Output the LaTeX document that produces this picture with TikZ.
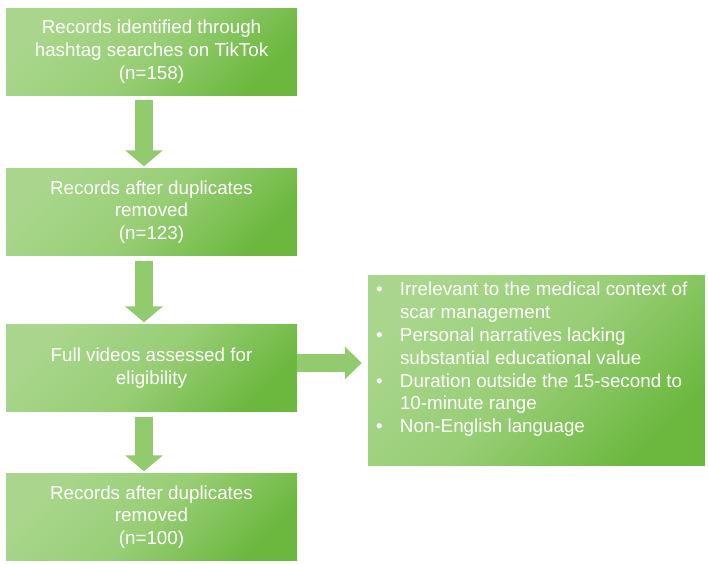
\documentclass[tikz,border=0pt]{standalone}
\usepackage{fontspec}
\setmainfont{Liberation Sans}
\usetikzlibrary{arrows.meta}

\definecolor{boxlight}{HTML}{A9D68C}
\definecolor{boxmid}{HTML}{98CE76}
\definecolor{boxdark}{HTML}{6CB83F}
\definecolor{arrowgreen}{HTML}{92CB6E}

\begin{document}
\begin{tikzpicture}[x=1pt, y=-1pt,
box/.style = {rectangle, inner sep=0pt, minimum width=291pt, minimum height=87pt,
              top color=boxlight, bottom color=boxdark, middle color=boxmid,
              shading angle=45, text=white, align=center,
              font=\fontsize{18.8}{22.8}\selectfont},
down/.style = {draw=arrowgreen, line width=18pt, shorten <=5pt, shorten >=2pt,
               -{Triangle[width=37pt, length=16pt]}},
right/.style = {draw=arrowgreen, line width=18pt, shorten >=6pt,
                -{Triangle[width=32pt, length=17pt]}}
                        ]
\useasboundingbox (0,0) rectangle (708,563);
% left column
\node (rec)   [box] at (151.5,51.5) {Records identified through\\hashtag searches on TikTok\\(n=158)};
\node (dup)   [box] at (151.5,212)  {Records after duplicates\\removed\\(n=123)};
\node (full)  [box] at (151.5,368)  {Full videos assessed for\\eligibility};
\node (final) [box] at (151.5,517)  {Records after duplicates\\removed\\(n=100)};
% exclusions
\node (excl) [box, minimum width=337pt, minimum height=190pt] at (536.5,370) {};
\node (excltext) [anchor=north west, inner sep=0pt, text=white, align=left,
      font=\fontsize{18.8}{22.8}\selectfont] at ([xshift=8pt,yshift=-5pt]excl.north west)
  {\begin{tabular}{@{}p{24pt}@{}l@{}}
   \textbullet & Irrelevant to the medical context of\\
               & scar management\\
   \textbullet & Personal narratives lacking\\
               & substantial educational value\\
   \textbullet & Duration outside the 15-second to\\
               & 10-minute range\\
   \textbullet & Non-English language
   \end{tabular}};
% arrows
\draw[down] ([xshift=-7.5pt]rec.south) -- ([xshift=-7.5pt]dup.north);
\draw[down] ([xshift=-7.5pt]dup.south) -- ([xshift=-7.5pt]full.north);
\draw[down] ([xshift=-7.5pt]full.south) -- ([xshift=-7.5pt]final.north);
\draw[right] ([yshift=5pt]full.east) -- ([yshift=5pt]full.east -| excl.west);
\end{tikzpicture}
\end{document}
